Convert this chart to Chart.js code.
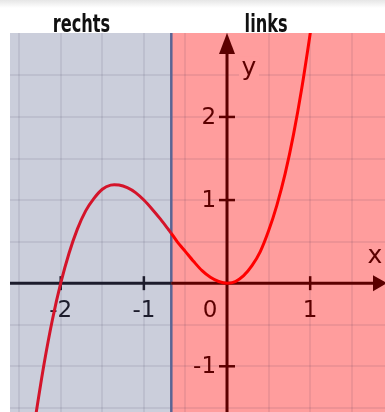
<!DOCTYPE html>
<html>
<head>
<meta charset="utf-8">
<script src="https://cdn.jsdelivr.net/npm/chart.js@4.4.1/dist/chart.umd.min.js"></script>
<style>
    html, body { margin: 0; padding: 0; background: #fff; }
    body { width: 385px; height: 412px; overflow: hidden; background: linear-gradient(#e6e6e6 0px, #ffffff 8px); }
    canvas { display: block; }
</style>
</head>
<body>
<canvas id="curveChart" width="385" height="412"></canvas>
<script>
// values
const xValues = [-2.35, -2.3, -2.2, -2.1, -2.0, -1.9, -1.8, -1.7, -1.6, -1.5, -1.4, -1.3, -1.2, -1.1, -1.0,
    -0.9, -0.8, -0.7, -0.67, -0.6, -0.5, -0.4, -0.3, -0.2, -0.1, 0, 0.1, 0.2, 0.3, 0.4, 0.5, 0.6, 0.7, 0.8, 0.9, 1.0, 1.05];
const yValues = [-1.93, -1.59, -0.97, -0.44, 0, 0.36, 0.65, 0.87, 1.02, 1.13, 1.18, 1.18, 1.15, 1.09, 1.0,
    0.89, 0.77, 0.64, 0.6, 0.5, 0.38, 0.26, 0.15, 0.07, 0.02, 0, 0.02, 0.09, 0.21, 0.38, 0.63, 0.94, 1.32, 1.79, 2.35, 3.0, 3.36];
const inflectionX = -0.67;
const xTicks = [-2, -1, 0, 1];
const yTicks = [2, 1, -1];
const headerLabels = ['rechts', 'links'];

const blueBg = '#cbcedb';
const redBg = '#ff9d9d';
const darkRed = '#5c0000';
const darkBlue = '#1c1c2c';

const points = xValues.map((x, i) => ({ x: x, y: yValues[i] }));

const backgroundPlugin = {
    id: 'background',
    beforeDatasetsDraw(chart) {
        const { ctx, chartArea, scales } = chart;
        const xs = scales.x, ys = scales.y;
        const splitPx = xs.getPixelForValue(inflectionX);
        ctx.save();
        ctx.fillStyle = blueBg;
        ctx.fillRect(chartArea.left, chartArea.top, splitPx - chartArea.left, chartArea.bottom - chartArea.top);
        ctx.fillStyle = redBg;
        ctx.fillRect(splitPx, chartArea.top, chartArea.right - splitPx, chartArea.bottom - chartArea.top);

        // grid every 0.5
        ctx.strokeStyle = 'rgba(20,20,60,0.08)';
        ctx.lineWidth = 2;
        for (let v = -2.5; v <= 1.5; v += 0.5) {
            const px = Math.round(xs.getPixelForValue(v));
            ctx.beginPath();
            ctx.moveTo(px, chartArea.top);
            ctx.lineTo(px, chartArea.bottom);
            ctx.stroke();
        }
        for (let v = -1.5; v <= 2.5; v += 0.5) {
            const py = Math.round(ys.getPixelForValue(v));
            ctx.beginPath();
            ctx.moveTo(chartArea.left, py);
            ctx.lineTo(chartArea.right, py);
            ctx.stroke();
        }

        // boundary line
        ctx.strokeStyle = '#5a6494';
        ctx.lineWidth = 2.5;
        ctx.beginPath();
        ctx.moveTo(splitPx, chartArea.top);
        ctx.lineTo(splitPx, chartArea.bottom);
        ctx.stroke();

        // axes
        const x0 = xs.getPixelForValue(0);
        const y0 = ys.getPixelForValue(0);
        ctx.lineWidth = 3;
        ctx.strokeStyle = darkBlue;
        ctx.beginPath();
        ctx.moveTo(chartArea.left, y0);
        ctx.lineTo(splitPx, y0);
        ctx.stroke();
        ctx.strokeStyle = darkRed;
        ctx.beginPath();
        ctx.moveTo(splitPx, y0);
        ctx.lineTo(chartArea.right - 8, y0);
        ctx.stroke();
        ctx.beginPath();
        ctx.moveTo(x0, chartArea.bottom);
        ctx.lineTo(x0, chartArea.top + 10);
        ctx.stroke();
        // arrow heads
        ctx.fillStyle = darkRed;
        ctx.beginPath();
        ctx.moveTo(chartArea.right + 2, y0);
        ctx.lineTo(chartArea.right - 12, y0 - 8);
        ctx.lineTo(chartArea.right - 12, y0 + 8);
        ctx.closePath();
        ctx.fill();
        ctx.beginPath();
        ctx.moveTo(x0, chartArea.top);
        ctx.lineTo(x0 - 8, chartArea.top + 21);
        ctx.lineTo(x0 + 8, chartArea.top + 21);
        ctx.closePath();
        ctx.fill();

        // tick marks
        ctx.lineWidth = 2.5;
        xTicks.forEach(v => {
            if (v === 0) return;
            const px = xs.getPixelForValue(v);
            ctx.strokeStyle = v < inflectionX ? darkBlue : darkRed;
            ctx.beginPath();
            ctx.moveTo(px, y0 - 7);
            ctx.lineTo(px, y0 + 7);
            ctx.stroke();
        });
        ctx.strokeStyle = darkRed;
        yTicks.forEach(v => {
            const py = ys.getPixelForValue(v);
            ctx.beginPath();
            ctx.moveTo(x0 - 8, py);
            ctx.lineTo(x0 + 8, py);
            ctx.stroke();
        });

        // tick labels
        ctx.font = '23px "DejaVu Sans"';
        ctx.textAlign = 'center';
        ctx.textBaseline = 'middle';
        xTicks.forEach(v => {
            let px = xs.getPixelForValue(v);
            if (v === 0) px -= 17;
            ctx.fillStyle = v < inflectionX ? darkBlue : darkRed;
            ctx.fillText(String(v), px, y0 + 28);
        });
        ctx.textAlign = 'right';
        yTicks.forEach(v => {
            const py = ys.getPixelForValue(v);
            ctx.fillStyle = darkRed;
            ctx.fillText(String(v), x0 - 11, py + 1);
        });

        // axis names
        ctx.font = '25px "DejaVu Sans"';
        ctx.textAlign = 'center';
        const drawName = (t, px, py) => {
            ctx.fillStyle = redBg;
            ctx.fillRect(px - 10, py - 12, 20, 24);
            ctx.fillStyle = darkRed;
            ctx.fillText(t, px, py);
        };
        drawName('y', x0 + 22, ys.getPixelForValue(2.58));
        drawName('x', chartArea.right - 10, y0 - 27);
        ctx.restore();
    },
    afterDraw(chart) {
        const { ctx, chartArea, scales } = chart;
        ctx.save();
        ctx.font = 'bold 25px "DejaVu Sans Condensed", "DejaVu Sans"';
        ctx.fillStyle = '#111';
        ctx.textAlign = 'center';
        ctx.textBaseline = 'alphabetic';
        const drawHeader = (t, px) => {
            ctx.save();
            ctx.translate(px, chartArea.top - 1);
            ctx.scale(0.72, 1);
            ctx.fillText(t, 0, 0);
            ctx.restore();
        };
        drawHeader(headerLabels[0], scales.x.getPixelForValue(-1.75));
        drawHeader(headerLabels[1], scales.x.getPixelForValue(0.47));
        ctx.restore();
    }
};

new Chart(document.getElementById('curveChart').getContext('2d'), {
    type: 'line',
    data: {
        datasets: [{
            data: points,
            borderColor: '#ff0000',
            borderWidth: 3,
            pointRadius: 0,
            tension: 0.3,
            segment: {
                borderColor: ctx => ctx.p0.parsed.x < inflectionX ? '#d4142a' : '#ff0000'
            }
        }]
    },
    options: {
        responsive: false,
        animation: false,
        devicePixelRatio: 1,
        layout: { padding: { left: 10, top: 33, right: 0, bottom: 0 } },
        scales: {
            x: { type: 'linear', display: false, min: -2.61, max: 1.9 },
            y: { type: 'linear', display: false, min: -1.55, max: 3.01 }
        },
        plugins: {
            legend: { display: false },
            tooltip: { enabled: false }
        }
    },
    plugins: [backgroundPlugin]
});
</script>
</body>
</html>
